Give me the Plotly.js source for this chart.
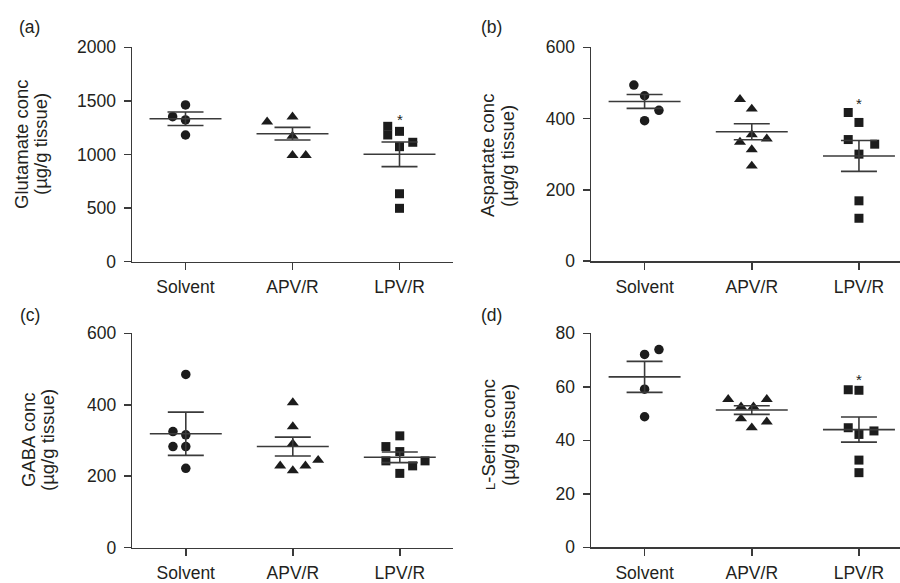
<!DOCTYPE html>
<html>
<head>
<meta charset="utf-8">
<script src="https://cdn.plot.ly/plotly-3.0.1.min.js"></script>
<style>html,body{margin:0;padding:0;background:#fff;}#chart{width:900px;height:583px;}</style>
</head>
<body>
<div id="chart"></div>
<script>
// ---------- data ----------
const groups = ["Solvent", "APV/R", "LPV/R"];

// (a) Glutamate
const gluSolvent = [1462, 1353, 1322, 1182];
const gluAPV     = [1352, 1305, 1172, 992, 992];
const gluLPV     = [1263, 1216, 1182, 1114, 1073, 634, 498];
const gluMean    = [1334, 1194, 1002];
const gluSEM     = [63, 59, 115];
const gluStar    = 1347;

// (b) Aspartate
const aspSolvent = [494, 464, 423, 394];
const aspAPV     = [454, 427, 355, 343, 334, 313, 267];
const aspLPV     = [417, 389, 341, 328, 300, 169, 120];
const aspMean    = [448, 363, 295];
const aspSEM     = [19.5, 22.5, 43.5];
const aspStar    = 449;

// (c) GABA
const gabaSolvent = [485, 325, 316, 283, 283, 222];
const gabaAPV     = [406, 339, 291, 245, 229, 229, 216];
const gabaLPV     = [313, 283, 269, 243, 243, 229, 208];
const gabaMean    = [319, 283, 253];
const gabaSEM     = [60.5, 26.5, 15];

// (d) L-Serine
const serSolvent = [73.9, 72.1, 59.1, 48.8];
const serAPV     = [55.3, 55.3, 52.5, 52.5, 48.1, 46.9, 44.7];
const serLPV     = [58.9, 58.7, 44.7, 43.5, 42.2, 32.6, 27.9];
const serMean    = [63.7, 51.3, 44.0];
const serSEM     = [5.8, 1.6, 4.7];
const serStar    = 63.4;

// horizontal scatter offsets of the dots (category units), as drawn in the figure
const jitA = [[0, -0.12, 0, 0], [0, -0.237, 0, 0, 0.124], [-0.11, 0, -0.11, 0.124, 0, 0, 0]];
const jitB = [[-0.1, 0, 0.134, 0], [-0.11, 0, 0, 0.14, -0.11, 0, 0], [-0.1, 0, -0.1, 0.147, 0, 0, 0]];
const jitC = [[0, -0.12, 0, -0.12, 0, 0], [0, 0, 0, 0.237, -0.118, 0.118, 0], [0, -0.13, 0, -0.13, 0.236, 0.12, 0]];
const jitD = [[0.134, 0, 0, 0], [-0.22, 0.14, -0.1, 0.016, -0.1, 0.14, 0], [-0.1, 0, -0.1, 0.14, 0, 0, 0]];

// ---------- layout helpers ----------
const W = 900, H = 583;
const px = x => x / W;
const py = y => 1 - y / H;
const INK = '#231f20';
const MARK = '#1c1c1c';
const LINE = '#3a3a3a';
const FONT = 'Liberation Sans, Arial, Helvetica, sans-serif';
const symbols = ['circle', 'triangle-up', 'square'];
const sizes = [9.5, 10.5, 9];

const panels = [
  {xa: 'x',  ya: 'y',  data: [gluSolvent, gluAPV, gluLPV],    jit: jitA, mean: gluMean,  sem: gluSEM,
   xd: [132, 453], yd: [47.3, 261.7], xr: [-0.5, 2.5], yr: [0, 2000], tv: [0, 500, 1000, 1500, 2000], star: gluStar},
  {xa: 'x2', ya: 'y2', data: [aspSolvent, aspAPV, aspLPV],    jit: jitB, mean: aspMean,  sem: aspSEM,
   xd: [591, 900], yd: [47.3, 261], xr: [-0.5, 2.383], yr: [0, 600], tv: [0, 200, 400, 600], star: aspStar},
  {xa: 'x3', ya: 'y3', data: [gabaSolvent, gabaAPV, gabaLPV], jit: jitC, mean: gabaMean, sem: gabaSEM,
   xd: [132.3, 453.3], yd: [333.3, 547.7], xr: [-0.5, 2.5], yr: [0, 600], tv: [0, 200, 400, 600], star: null},
  {xa: 'x4', ya: 'y4', data: [serSolvent, serAPV, serLPV],    jit: jitD, mean: serMean,  sem: serSEM,
   xd: [591, 900], yd: [333.3, 547.3], xr: [-0.5, 2.383], yr: [0, 80], tv: [0, 20, 40, 60, 80], star: serStar}
];

const traces = [];
const layout = {
  width: W, height: H,
  margin: {l: 0, r: 0, t: 0, b: 0},
  paper_bgcolor: '#ffffff', plot_bgcolor: '#ffffff',
  showlegend: false,
  font: {family: FONT, size: 17, color: INK},
  annotations: []
};

panels.forEach((p, k) => {
  p.data.forEach((vals, g) => {
    traces.push({
      type: 'scatter', mode: 'markers', xaxis: p.xa, yaxis: p.ya,
      x: vals.map((v, i) => g + p.jit[g][i]), y: vals,
      marker: {symbol: symbols[g], size: sizes[g], color: MARK, line: {width: 0}},
      cliponaxis: false, hoverinfo: 'skip'
    });
  });
  traces.push({
    type: 'scatter', mode: 'markers', xaxis: p.xa, yaxis: p.ya,
    x: [0, 1, 2], y: p.mean,
    marker: {symbol: 'line-ew', size: 51.4, color: LINE, line: {width: 1.6, color: LINE}},
    error_y: {type: 'data', array: p.sem, visible: true, width: 18, thickness: 1.6, color: LINE},
    cliponaxis: false, hoverinfo: 'skip'
  });
  const sfx = k === 0 ? '' : String(k + 1);
  layout['xaxis' + sfx] = {
    domain: [px(p.xd[0]), px(p.xd[1])], range: p.xr, anchor: p.ya,
    tickmode: 'array', tickvals: [0, 1, 2], ticktext: groups,
    ticks: 'outside', ticklen: 7, tickwidth: 1.5, tickcolor: LINE,
    ticklabelstandoff: 2,
    showline: true, linewidth: 1.5, linecolor: LINE,
    showgrid: false, zeroline: false, fixedrange: true,
    tickfont: {family: FONT, size: 17.5, color: INK}
  };
  layout['yaxis' + sfx] = {
    domain: [py(p.yd[1]), py(p.yd[0])], range: p.yr, anchor: p.xa,
    tickmode: 'array', tickvals: p.tv,
    ticks: 'outside', ticklen: 7, tickwidth: 1.5, tickcolor: LINE,
    ticklabelstandoff: 4,
    showline: true, linewidth: 1.5, linecolor: LINE,
    showgrid: false, zeroline: false, fixedrange: true,
    tickfont: {family: FONT, size: 17.5, color: INK}
  };
  if (p.star !== null) {
    layout.annotations.push({
      xref: p.xa, yref: p.ya, x: 2, y: p.star, text: '*', showarrow: false,
      font: {family: FONT, size: 15, color: INK}, yshift: -2
    });
  }
});

// panel letters
[['(a)', 29, 27], ['(b)', 491, 27], ['(c)', 30, 315], ['(d)', 491, 315]].forEach(([t, x, y]) => {
  layout.annotations.push({xref: 'paper', yref: 'paper', x: px(x), y: py(y), text: t,
    showarrow: false, xanchor: 'center', yanchor: 'middle', font: {family: FONT, size: 17.5, color: INK}});
});

// y-axis titles (two lines each)
const unit = '(\u00b5g/g tissue)';
[
  ['Glutamate conc', unit, 22, 41, 144],
  ['Aspartate conc', unit, 487, 507, 156],
  ['GABA conc', unit, 28, 47, 440],
  ["<span style='font-size:13px'>L</span>-Serine conc", unit, 488, 508, 435]
].forEach(([l1, l2, x1, x2, yc]) => {
  [[l1, x1], [l2, x2]].forEach(([t, x]) => {
    layout.annotations.push({xref: 'paper', yref: 'paper', x: px(x), y: py(yc), text: t,
      textangle: -90, showarrow: false, xanchor: 'center', yanchor: 'middle',
      font: {family: FONT, size: 18.5, color: INK}});
  });
});

Plotly.newPlot('chart', traces, layout, {staticPlot: true, displayModeBar: false});
</script>
</body>
</html>
